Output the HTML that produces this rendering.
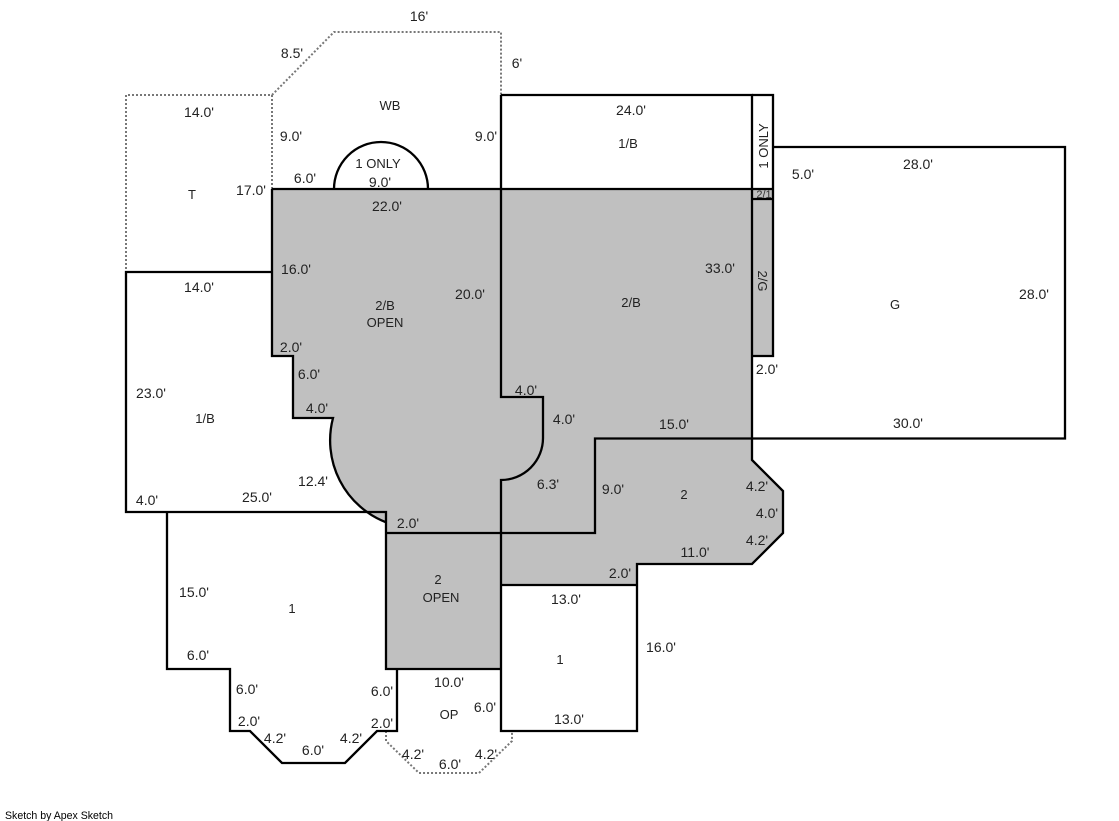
<!DOCTYPE html>
<html><head><meta charset="utf-8"><style>
html,body{margin:0;padding:0;background:#fff}
svg{display:block}
text{font-family:"Liberation Sans",Arial,sans-serif;font-size:14px;fill:#222;text-anchor:middle}
.r{font-size:13px}
.s{fill:none;stroke:#000;stroke-width:2.3}
.d{fill:none;stroke:#777;stroke-width:2;stroke-dasharray:2 2}
</style></head><body>
<svg width="1119" height="821" viewBox="0 0 1119 821" xmlns="http://www.w3.org/2000/svg">
<rect width="1119" height="821" fill="#fff"/>
<path fill="#c0c0c0" d="M272 189H773V356H752V460L783 491V533L752 564H637V585H501V669H386V522.5A88 88 0 0 1 333 418H293V356H272Z"/>
<path class="d" d="M272 189V95H126V272M272 95L334 32H501V95"/>
<path class="d" d="M386 731V741L419 773H479L512 741V731"/>
<path class="s" d="M272 189H773M272 189V356H293V418H333A88 88 0 0 0 386.500 522.500"/>
<path class="s" d="M334 189A47 47 0 0 1 428 189"/>
<path class="s" d="M501 95V397H543V438A42 42 0 0 1 501 480V731H637V564H752L783 533V491L752 460V95H501"/>
<path class="s" d="M752 95H773V356H752M752 199H773M773 147H1065V438.500H595V533H386"/>
<path class="s" d="M272 272H126V512H386V669H501M501 585H637"/>
<path class="s" d="M167 512V669H230V731H250L282 763H345L377 731H397V669"/>
<text x="419" y="21">16'</text>
<text x="292" y="58">8.5'</text>
<text x="517" y="68">6'</text>
<text class="r" x="390" y="110">WB</text>
<text x="199" y="117">14.0'</text>
<text x="631" y="115">24.0'</text>
<text x="291" y="141">9.0'</text>
<text x="486" y="141">9.0'</text>
<text class="r" x="378" y="168">1 ONLY</text>
<text x="380" y="187">9.0'</text>
<text class="r" x="628" y="148">1/B</text>
<text x="305" y="183">6.0'</text>
<text x="251" y="195">17.0'</text>
<text class="r" x="192" y="199">T</text>
<text x="387" y="211">22.0'</text>
<text x="803" y="179">5.0'</text>
<text x="918" y="169">28.0'</text>
<text x="296" y="274">16.0'</text>
<text x="199" y="292">14.0'</text>
<text x="470" y="299">20.0'</text>
<text x="720" y="273">33.0'</text>
<text x="1034" y="299">28.0'</text>
<text class="r" x="385" y="310">2/B</text>
<text class="r" x="385" y="327">OPEN</text>
<text class="r" x="631" y="307">2/B</text>
<text class="r" x="895" y="309">G</text>
<text x="291" y="352">2.0'</text>
<text x="309" y="379">6.0'</text>
<text x="767" y="374">2.0'</text>
<text x="151" y="398">23.0'</text>
<text x="526" y="395">4.0'</text>
<text x="317" y="413">4.0'</text>
<text class="r" x="205" y="423">1/B</text>
<text x="564" y="424">4.0'</text>
<text x="674" y="429">15.0'</text>
<text x="908" y="428">30.0'</text>
<text x="313" y="486">12.4'</text>
<text x="548" y="489">6.3'</text>
<text x="613" y="494">9.0'</text>
<text class="r" x="684" y="499">2</text>
<text x="757" y="491">4.2'</text>
<text x="767" y="518">4.0'</text>
<text x="757" y="545">4.2'</text>
<text x="147" y="505">4.0'</text>
<text x="257" y="502">25.0'</text>
<text x="408" y="528">2.0'</text>
<text x="695" y="557">11.0'</text>
<text x="620" y="578">2.0'</text>
<text class="r" x="438" y="584">2</text>
<text class="r" x="441" y="602">OPEN</text>
<text x="194" y="597">15.0'</text>
<text class="r" x="292" y="613">1</text>
<text x="566" y="604">13.0'</text>
<text x="661" y="652">16.0'</text>
<text class="r" x="560" y="664">1</text>
<text x="198" y="660">6.0'</text>
<text x="247" y="694">6.0'</text>
<text x="382" y="696">6.0'</text>
<text x="449" y="687">10.0'</text>
<text x="485" y="712">6.0'</text>
<text class="r" x="449" y="719">OP</text>
<text x="569" y="724">13.0'</text>
<text x="249" y="726">2.0'</text>
<text x="382" y="728">2.0'</text>
<text x="275" y="743">4.2'</text>
<text x="351" y="743">4.2'</text>
<text x="313" y="755">6.0'</text>
<text x="413" y="759">4.2'</text>
<text x="486" y="759">4.2'</text>
<text x="450" y="769">6.0'</text>
<text class="r" transform="translate(768 146) rotate(-90)">1 ONLY</text>
<text class="r" transform="translate(758 281) rotate(90)">2/G</text>
<text x="764" y="198" style="font-size:11px;fill:#333">2/1</text>
<text x="59" y="819" textLength="108" lengthAdjust="spacingAndGlyphs" style="font-size:11px;fill:#000">Sketch by Apex Sketch</text>
</svg>
</body></html>
